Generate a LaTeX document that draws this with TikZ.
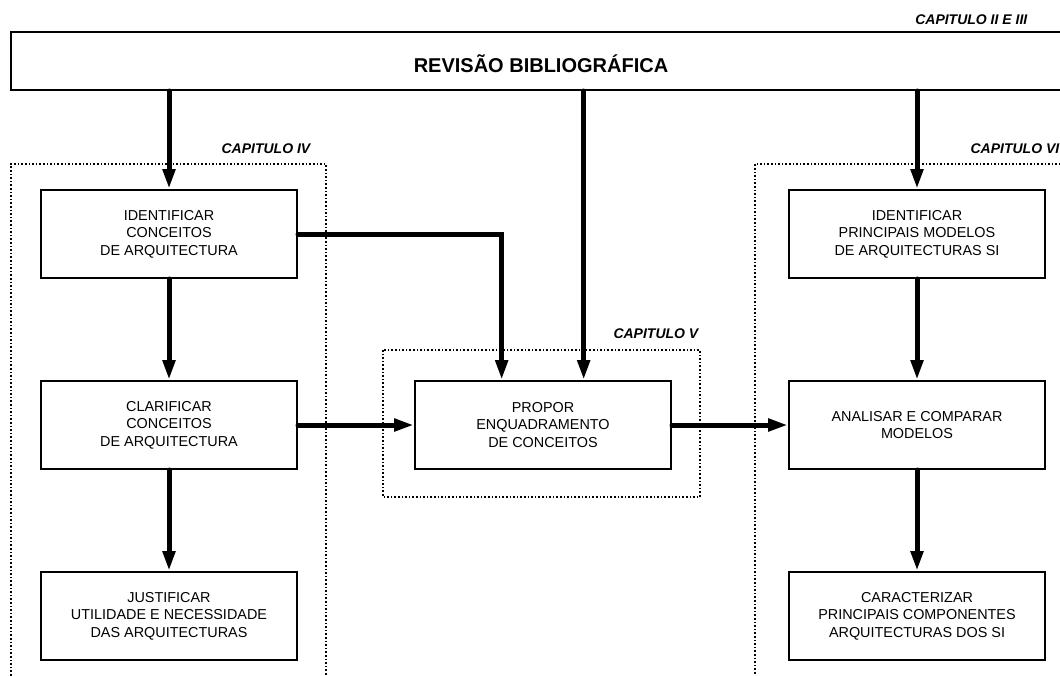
\documentclass[tikz,border=0pt]{standalone}
\usepackage{fontspec}
\setmainfont{Liberation Sans}
\usetikzlibrary{positioning,arrows.meta}

\tikzset{
  task/.style={draw, line width=1.5pt, minimum width=192pt, minimum height=66pt,
    align=center, font=\fontsize{10.8}{13.2}\selectfont},
  flow/.style={line width=3.75pt, line cap=round, -{Triangle[length=15pt,width=9pt]}},
  frame/.style={line width=1.2pt, dash pattern=on 1.2pt off 1.5pt},
  chap/.style={anchor=east, font=\fontsize{10.5}{12}\selectfont\bfseries\itshape}
}

\begin{document}
\begin{tikzpicture}[x=0.75pt, y=-0.75pt]
  \clip (0,0) rectangle (1060,675);

  \node (rev) [draw, line width=1.5pt, minimum width=795pt, minimum height=43.5pt,
    text height=17pt, font=\fontsize{15}{18}\selectfont\bfseries] at (541,61) {REVISÃO BIBLIOGRÁFICA};

  \node (id) [task] at (169,234) {IDENTIFICAR\\CONCEITOS\\DE ARQUITECTURA};
  \node (cl) [task, below=75.75pt of id] {CLARIFICAR\\CONCEITOS\\DE ARQUITECTURA};
  \node (ju) [task, below=75.75pt of cl] {JUSTIFICAR\\UTILIDADE E NECESSIDADE\\DAS ARQUITECTURAS};
  \node (pp) [task, right=87pt of cl] {PROPOR\\ENQUADRAMENTO\\DE CONCEITOS};
  \node (an) [task, right=87pt of pp] {ANALISAR E COMPARAR\\MODELOS};
  \node (im) [task, above=75.75pt of an] {IDENTIFICAR\\PRINCIPAIS MODELOS\\DE ARQUITECTURAS SI};
  \node (ca) [task, below=75.75pt of an] {CARACTERIZAR\\PRINCIPAIS COMPONENTES\\ARQUITECTURAS DOS SI};

  \coordinate (ppin) at ([xshift=30.5pt]pp.north);
  \coordinate (ppel) at ([xshift=-31pt]pp.north);

  \draw[frame] (11,690) -- (11,164) -- (326,164) -- (326,690);
  \draw[frame] (1075,164) -- (755,164) -- (755,690);
  \draw[frame] (383,350) rectangle (700,497);

  \node (c23) [chap] at (1032,20) {CAPITULO II E III};
  \node (c4) [chap] at (315,149) {CAPITULO IV};
  \node (c5) [chap] at (703,334) {CAPITULO V};
  \node (c6) [chap] at (1064,149) {CAPITULO VI};

  \draw[flow] (rev.south -| id.north) -- (id.north);
  \draw[flow] (rev.south -| im.north) -- (im.north);
  \draw[flow] (rev.south -| ppin) -- (ppin);
  \draw[flow] (id.east) -| (ppel);
  \draw[flow] (id) -- (cl);
  \draw[flow] (cl) -- (ju);
  \draw[flow] (cl) -- (pp);
  \draw[flow] (pp) -- (an);
  \draw[flow] (im) -- (an);
  \draw[flow] (an) -- (ca);
\end{tikzpicture}
\end{document}
